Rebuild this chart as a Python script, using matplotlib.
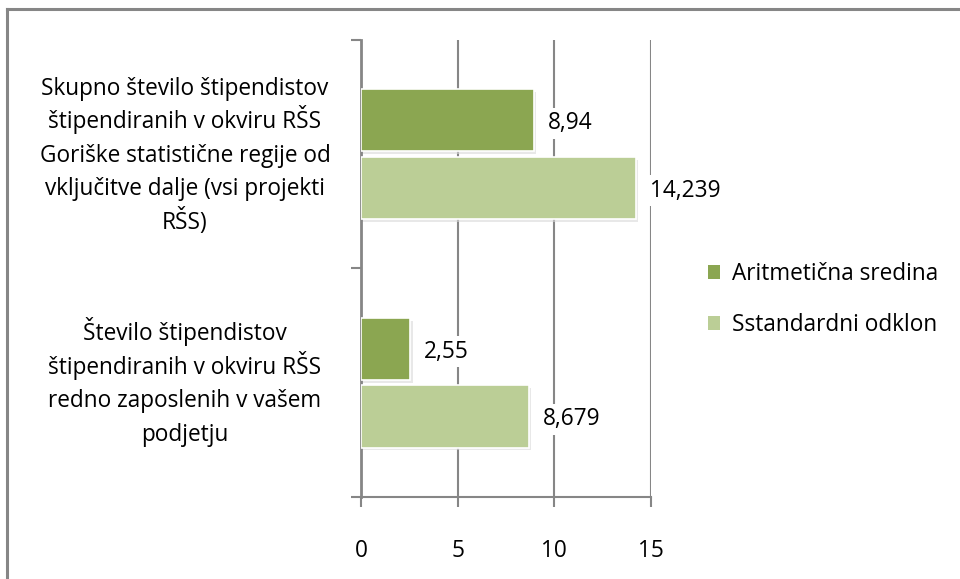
import numpy as np
import matplotlib
matplotlib.use('Agg')
import matplotlib.pyplot as plt
from matplotlib.lines import Line2D
from matplotlib.patches import Patch

plt.rcParams['font.family'] = ['Open Sans', 'DejaVu Sans']

# Data
categories = [
    ['Skupno število štipendistov', 'štipendiranih v okviru RŠS',
     'Goriške statistične regije od', 'vključitve dalje (vsi projekti', 'RŠS)'],
    ['Število štipendistov', 'štipendiranih v okviru RŠS',
     'redno zaposlenih v vašem', 'podjetju'],
]
series_names = ['Aritmetična sredina', 'Sstandardni odklon']
mean_vals = [8.94, 2.55]
std_vals = [14.239, 8.679]
mean_labels = ['8,94', '2,55']
std_labels = ['14,239', '8,679']
xticks = [0, 5, 10, 15]

dark = '#8BA651'
light = '#BBCE96'
grey = '#868686'
fs = 16.3

fig = plt.figure(figsize=(9.6, 5.79), dpi=100)
ax = fig.add_axes([0.376, 0.1416, 0.302, 0.7894])

y = np.arange(len(categories))
h = 0.272
off = 0.148

for vals, labels, col, sign in [(mean_vals, mean_labels, dark, -1),
                                 (std_vals, std_labels, light, 1)]:
    # soft shadow
    ax.barh(y + sign * off + 0.012, np.array(vals) + 0.12, height=h, left=0,
            color='#d9d9d9', alpha=0.6, zorder=2, linewidth=0)
    ax.barh(y + sign * off, vals, height=h, color=col, zorder=3,
            edgecolor='white', linewidth=1.2)
    for yy, v, lab in zip(y + sign * off, vals, labels):
        ax.annotate(lab, (v, yy), xytext=(10, -2), textcoords='offset points',
                    va='center', ha='left', fontsize=fs, zorder=5,
                    bbox=dict(boxstyle='square,pad=0.15', fc='white', ec='none'))

ax.set_xlim(0, 15)
ax.set_ylim(1.5, -0.5)
ax.set_xticks(xticks)
ax.set_xticklabels([str(t) for t in xticks], fontsize=fs)
ax.set_yticks([-0.5, 0.5, 1.5])
ax.set_yticklabels([])
ax.tick_params(axis='x', length=7, width=1.5, color=grey, pad=23, direction='out')
ax.tick_params(axis='y', length=7, width=1.5, color=grey, direction='out')
ax.grid(axis='x', color=grey, linewidth=1.5, zorder=0)
for s in ['top', 'right']:
    ax.spines[s].set_visible(False)
ax.spines['left'].set_color(grey)
ax.spines['left'].set_linewidth(2)
ax.spines['bottom'].set_color(grey)
ax.spines['bottom'].set_linewidth(1.5)
ax.set_axisbelow(True)

# category labels, one line at a time so spacing stays even
line_px = 33.5 * 0.72  # in points
for yy, lines in zip(y, categories):
    n = len(lines)
    for i, line in enumerate(lines):
        dy = -(i - (n - 1) / 2) * line_px - 5.5
        ax.annotate(line, (-0.607, yy), xycoords=ax.get_yaxis_transform(),
                    xytext=(0, dy), textcoords='offset points',
                    ha='center', va='baseline', fontsize=fs)

handles = [Patch(facecolor=dark, edgecolor='none'),
           Patch(facecolor=light, edgecolor='none')]
fig.legend(handles, series_names, loc='center left',
           bbox_to_anchor=(0.716, 0.483), frameon=False, fontsize=fs,
           handlelength=0.55, handleheight=0.55, handletextpad=0.5,
           labelspacing=1.2)

# outer chart border (only top and left visible)
fig.add_artist(Line2D([0.0073, 0.0073], [0, 0.984], color=grey, lw=2.2,
                      transform=fig.transFigure))
fig.add_artist(Line2D([0.0073, 1.0], [0.984, 0.984], color=grey, lw=2.2,
                      transform=fig.transFigure))

fig.savefig('out.png', dpi=100)
